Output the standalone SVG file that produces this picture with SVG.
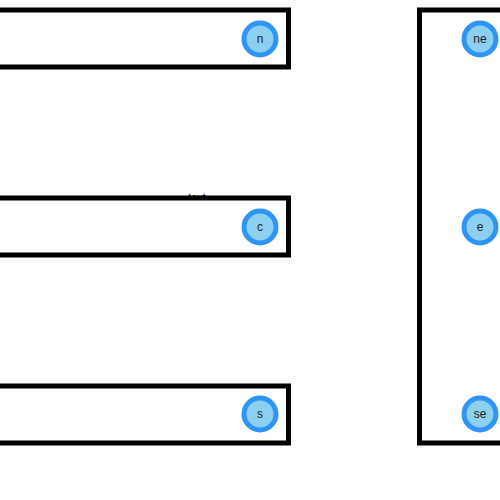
<svg xmlns="http://www.w3.org/2000/svg" width="500" height="500" viewBox="0 0 500 500">
<style>
.box{fill:#fff;stroke:#000;stroke-width:5}
.port{fill:#8ccfef;stroke:#2f95f5;stroke-width:5}
.lbl{font-family:"Liberation Sans",Arial,sans-serif;font-size:12px;fill:#222;text-anchor:middle;dominant-baseline:central}
.t{font-family:"Liberation Sans",Arial,sans-serif;font-size:11px;fill:#000;text-anchor:middle}
</style>
<rect width="500" height="500" fill="#fff"/>
<g id="connectors"></g>
<text class="t" x="197" y="201">text</text>
<g id="box-n"><rect class="box" x="-10" y="10" width="298.5" height="57"/></g>
<g id="box-c"><rect class="box" x="-10" y="198" width="298.5" height="57"/></g>
<g id="box-s"><rect class="box" x="-10" y="386" width="298.5" height="57"/></g>
<g id="box-e"><rect class="box" x="419.5" y="10" width="100" height="433"/></g>
<g id="port-n"><circle class="port" cx="260" cy="39" r="16"/><text class="lbl" x="260" y="39">n</text></g>
<g id="port-c"><circle class="port" cx="260" cy="227" r="16"/><text class="lbl" x="260" y="227">c</text></g>
<g id="port-s"><circle class="port" cx="260" cy="414" r="16"/><text class="lbl" x="260" y="414">s</text></g>
<g id="port-ne"><circle class="port" cx="480" cy="39" r="16"/><text class="lbl" x="480" y="39">ne</text></g>
<g id="port-e"><circle class="port" cx="480" cy="227" r="16"/><text class="lbl" x="480" y="227">e</text></g>
<g id="port-se"><circle class="port" cx="480" cy="414" r="16"/><text class="lbl" x="480" y="414">se</text></g>
</svg>
